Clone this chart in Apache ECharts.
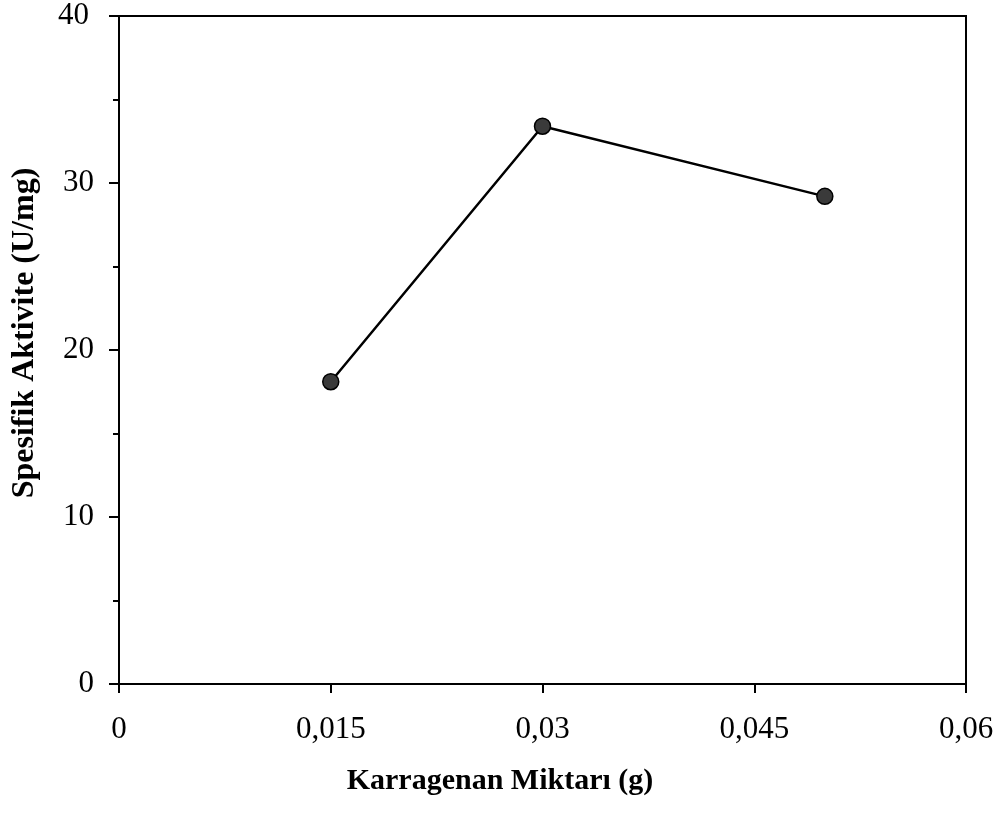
<!DOCTYPE html>
<html><head><meta charset="utf-8">
<script src="https://cdn.jsdelivr.net/npm/echarts@6/dist/echarts.min.js"></script>
<style>html,body{margin:0;padding:0;background:#fff}#c{width:1000px;height:824px}</style>
</head><body><div id="c"></div>
<script>
const xValues = [0.015, 0.03, 0.05];
const yValues = [18.1, 33.4, 29.2];
const xTickLabels = {0: '0', 0.015: '0,015', 0.03: '0,03', 0.045: '0,045', 0.06: '0,06'};
const xTitle = 'Karragenan Miktarı (g)';
const yTitle = 'Spesifik Aktivite (U/mg)';

const font = '"Liberation Serif", "Times New Roman", serif';
const chart = echarts.init(document.getElementById('c'));
chart.setOption({
  animation: false,
  backgroundColor: '#fff',
  grid: {left: 119, right: 34, top: 16, bottom: 140, show: true, borderColor: '#000', borderWidth: 2, backgroundColor: 'transparent'},
  xAxis: {
    type: 'value', min: 0, max: 0.06, interval: 0.015,
    axisLine: {lineStyle: {color: '#000', width: 2}},
    axisTick: {show: true, length: 9, lineStyle: {color: '#000', width: 2}},
    splitLine: {show: false},
    axisLabel: {color: '#000', fontSize: 31, fontFamily: font, margin: 30,
      formatter: v => { for (const k in xTickLabels) { if (Math.abs(+k - v) < 1e-9) return xTickLabels[k]; } return ''; }}
  },
  yAxis: {
    type: 'value', min: 0, max: 40, interval: 10,
    axisLine: {lineStyle: {color: '#000', width: 2}},
    axisTick: {show: true, length: 10, lineStyle: {color: '#000', width: 2}},
    minorTick: {show: true, splitNumber: 2, length: 6, lineStyle: {color: '#000', width: 2}},
    splitLine: {show: false},
    axisLabel: {color: '#000', fontSize: 31, fontFamily: font, margin: 25,
      formatter: v => v === 40 ? '{t|' + v + '}' : String(v),
      rich: {t: {fontSize: 31, fontFamily: font, color: '#000', padding: [0, 5, 0, 0]}}}
  },
  graphic: [
    {type: 'text', x: 500, y: 781, style: {text: xTitle, font: 'bold 30px ' + font, fill: '#000', align: 'center', verticalAlign: 'middle'}},
    {type: 'text', x: 25, y: 333, rotation: Math.PI / 2, style: {text: yTitle, font: 'bold 32px ' + font, fill: '#000', align: 'center', verticalAlign: 'middle'}}
  ],
  series: [{
    type: 'line',
    data: xValues.map((x, i) => [x, yValues[i]]),
    symbol: 'circle', symbolSize: 16,
    lineStyle: {color: '#000', width: 2.5},
    itemStyle: {color: '#3a3a3a', borderColor: '#000', borderWidth: 1.5}
  }]
});
</script></body></html>
